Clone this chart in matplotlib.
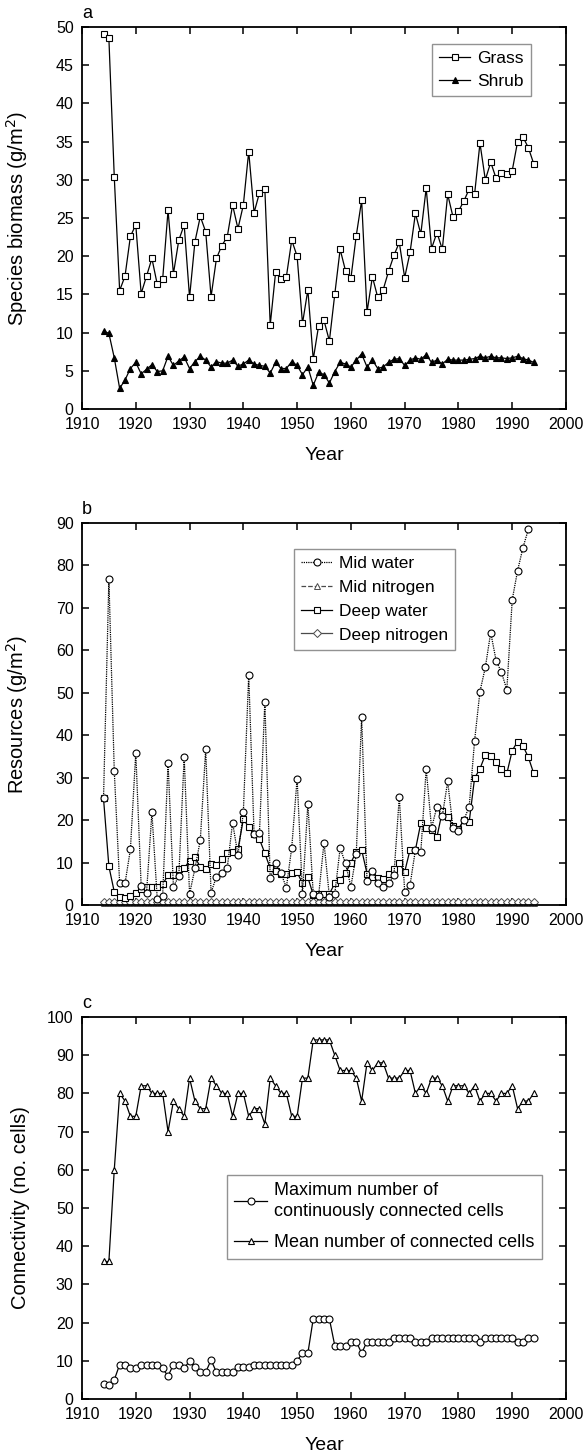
import matplotlib
matplotlib.use("Agg")
import matplotlib.pyplot as plt

plt.rcParams['font.family'] = ['Liberation Sans', 'DejaVu Sans']

# ---- data ----
years = list(range(1914, 1995))          # 1914..1994
years_mid_water = list(range(1914, 1994))  # mid water ends one year earlier

grass = [49.1, 48.5, 30.4, 15.5, 17.4, 22.6, 24.1, 15.1, 17.4, 19.7,
         16.3, 17.0, 26.0, 17.7, 22.1, 24.1, 14.6, 21.9, 25.2, 23.2,
         14.7, 19.7, 21.4, 22.5, 26.7, 23.6, 26.7, 33.7, 25.7, 28.3,
         28.8, 11.0, 17.9, 17.0, 17.3, 22.1, 20.0, 11.2, 15.6, 6.5,
         10.9, 11.6, 8.9, 15.0, 20.9, 18.1, 17.1, 22.7, 27.3, 12.7,
         17.3, 14.6, 15.6, 18.0, 20.1, 21.8, 17.2, 20.5, 25.6, 22.9,
         28.9, 21.0, 23.1, 20.9, 28.1, 25.1, 25.9, 27.2, 28.8, 28.1,
         34.8, 30.0, 32.3, 30.2, 30.9, 30.7, 31.2, 35.0, 35.6, 34.2,
         32.1]

shrub = [10.2, 9.9, 6.7, 2.7, 3.8, 5.3, 6.1, 4.6, 5.2, 5.8,
         4.9, 5.0, 6.9, 5.7, 6.3, 6.8, 5.3, 6.2, 6.9, 6.4,
         5.5, 6.2, 6.0, 6.0, 6.4, 5.6, 5.9, 6.4, 5.9, 5.7,
         5.6, 4.7, 6.1, 5.3, 5.3, 6.2, 5.7, 4.5, 5.5, 3.1,
         4.8, 4.5, 3.4, 4.9, 6.1, 5.9, 5.5, 6.4, 7.2, 5.5,
         6.4, 5.3, 5.5, 6.1, 6.5, 6.6, 5.7, 6.4, 6.7, 6.5,
         7.1, 6.1, 6.4, 5.9, 6.5, 6.4, 6.4, 6.4, 6.5, 6.6,
         6.9, 6.7, 6.9, 6.7, 6.7, 6.6, 6.7, 6.9, 6.6, 6.4,
         6.1]

mid_water = [25.1, 76.8, 31.6, 5.1, 5.1, 13.1, 35.9, 4.5, 2.9, 21.8,
             1.3, 2.2, 33.5, 4.3, 6.8, 34.9, 2.6, 8.6, 15.3, 36.7,
             2.9, 6.7, 7.6, 8.6, 19.4, 11.8, 21.8, 54.2, 16.7, 17.0,
             47.9, 6.3, 9.8, 7.5, 4.1, 13.5, 29.8, 2.7, 23.9, 2.6,
             2.2, 14.7, 2.0, 2.6, 13.4, 9.8, 4.3, 12.0, 44.4, 5.7,
             7.9, 5.1, 4.2, 5.1, 7.0, 25.5, 3.1, 4.7, 13.0, 12.4,
             32.1, 18.1, 23.2, 21.0, 29.1, 18.1, 17.5, 20.0, 23.2, 38.7,
             50.3, 56.0, 64.2, 57.6, 54.8, 50.7, 71.9, 78.8, 84.2, 88.5]

deep_water = [25.1, 9.1, 3.1, 1.8, 1.6, 2.1, 2.9, 3.7, 4.2, 4.3,
              4.3, 4.9, 7.0, 7.1, 8.4, 8.7, 10.4, 11.2, 9.0, 8.4,
              9.7, 9.4, 10.8, 12.2, 12.5, 13.1, 20.2, 18.4, 16.7, 15.5,
              12.2, 8.6, 8.0, 7.4, 7.2, 7.5, 7.7, 5.1, 6.5, 2.4,
              2.5, 2.6, 2.6, 5.1, 6.0, 7.5, 10.0, 12.5, 13.0, 7.4,
              6.6, 6.4, 6.2, 7.2, 8.4, 9.9, 7.8, 13.0, 13.0, 19.3,
              18.2, 17.6, 16.0, 22.1, 20.7, 18.7, 17.9, 20.0, 19.6, 29.9,
              32.1, 35.4, 35.1, 33.8, 32.0, 31.0, 36.4, 38.5, 37.5, 34.8,
              31.0]

mid_nitrogen = [0.5, 0.5, 0.5, 0.5, 0.5, 0.5, 0.5, 0.5, 0.5, 0.5,
                0.5, 0.5, 0.5, 0.5, 0.5, 0.5, 0.5, 0.5, 0.5, 0.5,
                0.5, 0.5, 0.5, 0.5, 0.5, 0.5, 0.5, 0.5, 0.5, 0.5,
                0.5, 0.5, 0.5, 0.5, 0.5, 0.5, 0.5, 0.5, 0.5, 0.5,
                0.5, 0.5, 0.5, 0.5, 0.5, 0.5, 0.5, 0.5, 0.5, 0.5,
                0.5, 0.5, 0.5, 0.5, 0.5, 0.5, 0.5, 0.5, 0.5, 0.5,
                0.5, 0.5, 0.5, 0.5, 0.5, 0.5, 0.5, 0.5, 0.5, 0.5,
                0.5, 0.5, 0.5, 0.5, 0.5, 0.5, 0.5, 0.5, 0.5, 0.5,
                0.5]

deep_nitrogen = [0.6, 0.6, 0.6, 0.6, 0.6, 0.6, 0.6, 0.6, 0.6, 0.6,
                 0.6, 0.6, 0.6, 0.6, 0.6, 0.6, 0.6, 0.6, 0.6, 0.6,
                 0.6, 0.6, 0.6, 0.6, 0.6, 0.6, 0.6, 0.6, 0.6, 0.6,
                 0.6, 0.6, 0.6, 0.6, 0.6, 0.6, 0.6, 0.6, 0.6, 0.6,
                 0.6, 0.6, 0.6, 0.6, 0.6, 0.6, 0.6, 0.6, 0.6, 0.6,
                 0.6, 0.6, 0.6, 0.6, 0.6, 0.6, 0.6, 0.6, 0.6, 0.6,
                 0.6, 0.6, 0.6, 0.6, 0.6, 0.6, 0.6, 0.6, 0.6, 0.6,
                 0.6, 0.6, 0.6, 0.6, 0.6, 0.6, 0.6, 0.6, 0.6, 0.6,
                 0.6]

max_connected = [4, 3.7, 5, 9, 9, 8, 8, 9, 9, 9,
                 9, 8, 6, 9, 9, 8, 10, 8.4, 7, 7,
                 10.2, 7, 7, 7, 7, 8.4, 8.4, 8.4, 9, 9,
                 9, 9, 9, 9, 9, 9, 10, 12, 12, 21,
                 21, 21, 21, 14, 14, 14, 15, 15, 12, 15,
                 15, 15, 15, 15, 16, 16, 16, 16, 15, 15,
                 15, 16, 16, 16, 16, 16, 16, 16, 16, 16,
                 15, 16, 16, 16, 16, 16, 16, 15, 15, 16,
                 16]

mean_connected = [36, 36, 60, 80, 78, 74, 74, 82, 82, 80,
                  80, 80, 70, 78, 76, 74, 84, 78, 76, 76,
                  84, 82, 80, 80, 74, 80, 80, 74, 76, 76,
                  72, 84, 82, 80, 80, 74, 74, 84, 84, 94,
                  94, 94, 94, 90, 86, 86, 86, 84, 78, 88,
                  86, 88, 88, 84, 84, 84, 86, 86, 80, 82,
                  80, 84, 84, 82, 78, 82, 82, 82, 80, 82,
                  78, 80, 80, 78, 80, 80, 82, 76, 78, 78,
                  80]

x_ticks = list(range(1910, 2001, 10))

# ---- figure layout (pixel positions of the reference) ----
W, H = 588, 1455
fig = plt.figure(figsize=(W / 100, H / 100), dpi=100)


def make_axes(top_px, bottom_px):
    left, right = 82, 566
    return fig.add_axes([left / W, 1 - bottom_px / H,
                         (right - left) / W, (bottom_px - top_px) / H])


def style_axes(ax, letter, ylabel, ymax, ystep):
    ax.set_xlim(1910, 2000)
    ax.set_ylim(0, ymax)
    ax.set_xticks(x_ticks)
    ax.set_yticks(list(range(0, ymax + 1, ystep)))
    ax.tick_params(direction='in', top=True, right=True, length=5,
                   width=1.1, labelsize=11.5)
    ax.tick_params(axis='x', pad=5.5)
    ax.tick_params(axis='y', pad=6)
    for s in ax.spines.values():
        s.set_linewidth(1.3)
    ax.set_xlabel("Year", fontsize=14, labelpad=11)
    ax.set_ylabel(ylabel, fontsize=14.5)
    ax.yaxis.set_label_coords(-0.108, 0.5)
    ax.text(0.0, 1.012, letter, transform=ax.transAxes, fontsize=13,
            ha='left', va='bottom')


mk = dict(markersize=5, markeredgewidth=0.8, linewidth=0.9, color='black')
leg = dict(loc='upper right', borderaxespad=0, fancybox=False,
           edgecolor='#777777', handlelength=1.8, handletextpad=0.4,
           borderpad=0.4, numpoints=1)

# a) species biomass
ax_a = make_axes(27, 409)
ax_a.plot(years, grass, marker='s', markerfacecolor='white', label='Grass', **mk)
ax_a.plot(years, shrub, marker='^', markerfacecolor='black', label='Shrub', **mk)
style_axes(ax_a, 'a', 'Species biomass (g/m$^2$)', 50, 5)
ax_a.legend(bbox_to_anchor=(0.927, 0.955), fontsize=12.5, labelspacing=0.45, **leg)

# b) resources
ax_b = make_axes(523, 905)
ax_b.plot(years, mid_nitrogen, marker='^', markerfacecolor='white', linestyle='--',
          label='Mid nitrogen', clip_on=False, markersize=5, markeredgewidth=0.7,
          linewidth=0.9, color='#4a4a4a')
ax_b.plot(years, deep_nitrogen, marker='D', markerfacecolor='white', linestyle='-',
          label='Deep nitrogen', clip_on=False, markersize=4.4, markeredgewidth=0.7,
          linewidth=0.9, color='#4a4a4a')
ax_b.plot(years, deep_water, marker='s', markerfacecolor='white', linestyle='-',
          label='Deep water', **mk)
ax_b.plot(years_mid_water, mid_water, marker='o', markerfacecolor='white',
          linestyle=(0, (1, 0.8)), label='Mid water', **mk)
style_axes(ax_b, 'b', 'Resources (g/m$^2$)', 90, 10)
h, l = ax_b.get_legend_handles_labels()
order = ['Mid water', 'Mid nitrogen', 'Deep water', 'Deep nitrogen']
hd = dict(zip(l, h))
ax_b.legend([hd[k] for k in order], order, bbox_to_anchor=(0.771, 0.932),
            fontsize=12.5, labelspacing=0.5, **leg)

# c) connectivity
ax_c = make_axes(1017, 1399)
ax_c.plot(years, max_connected, marker='o', markerfacecolor='white',
          label='Maximum number of\ncontinuously connected cells', **mk)
ax_c.plot(years, mean_connected, marker='^', markerfacecolor='white',
          label='Mean number of connected cells', **mk)
style_axes(ax_c, 'c', 'Connectivity (no. cells)', 100, 10)
lg_c = ax_c.legend(bbox_to_anchor=(0.950, 0.587), fontsize=13,
                   labelspacing=0.8, **leg)
for t in lg_c.get_texts():
    t.set_linespacing(1.3)

fig.savefig("out.png", dpi=100)
